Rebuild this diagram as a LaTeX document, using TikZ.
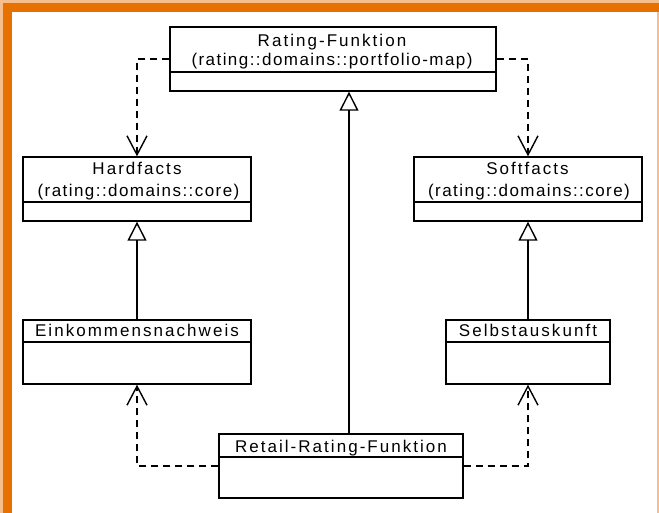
\documentclass[tikz,border=0pt]{standalone}
\usepackage{fontspec}
\setmainfont{Liberation Sans}
\newfontfamily\titlefont[LetterSpace=12]{Liberation Sans}
\newfontfamily\pkgfont[LetterSpace=8.5]{Liberation Sans}
\usetikzlibrary{arrows.meta}
\definecolor{frameorange}{RGB}{230,112,0}
\definecolor{framepeach}{RGB}{246,190,140}
\tikzset{
  classbox/.style={draw=black, line width=1.4pt, fill=white, inner sep=0pt},
  divider/.style={draw=black, line width=1.4pt},
  titletext/.style={anchor=base, inner sep=0pt, font=\titlefont\fontsize{17}{19}\selectfont},
  pkgtext/.style={anchor=base, inner sep=0pt, font=\pkgfont\fontsize{17}{19}\selectfont},
  depend/.style={draw=black, line width=1.4pt, dash pattern=on 7pt off 5pt, -{Straight Barb[length=19pt, width=20pt, line width=1.4pt]}},
  inherit/.style={draw=black, line width=1.4pt, -{Triangle[open, length=19pt, width=19pt, line width=1.4pt, fill=white]}},
}
\begin{document}
\begin{tikzpicture}[x=1pt, y=-1pt]
  % background and frame
  \fill[white] (0,0) rectangle (659,513);
  \useasboundingbox (0,0) rectangle (659,513);
  \fill[framepeach] (0,0) rectangle (659,3);
  \fill[framepeach] (0,0) rectangle (3,513);
  \fill[framepeach] (657,3) rectangle (659,513);
  \fill[frameorange] (3,3) rectangle (659,12);
  \fill[frameorange] (3,3) rectangle (11.5,513);

  % classes
  \node[classbox, minimum width=326pt, minimum height=64pt] (rf) at (333,59) {};
  \draw[divider] (rf.west |- 0,72) -- (rf.east |- 0,72);
  \node[titletext] (rft) at (332,47) {Rating-Funktion};
  \node[pkgtext] (rfp) at (332,66) {(rating::domains::portfolio-map)};

  \node[classbox, minimum width=228pt, minimum height=64pt] (hf) at (137,189) {};
  \draw[divider] (hf.west |- 0,202) -- (hf.east |- 0,202);
  \node[titletext] (hft) at (137,175) {Hardfacts};
  \node[pkgtext] (hfp) at (138.5,197) {(rating::domains::core)};

  \node[classbox, minimum width=228pt, minimum height=64pt] (sf) at (528,189) {};
  \draw[divider] (sf.west |- 0,202) -- (sf.east |- 0,202);
  \node[titletext] (sft) at (527.5,175) {Softfacts};
  \node[pkgtext] (sfp) at (529,197) {(rating::domains::core)};

  \node[classbox, minimum width=228pt, minimum height=64pt] (ek) at (137,352) {};
  \draw[divider] (ek.west |- 0,342) -- (ek.east |- 0,342);
  \node[titletext] (ekt) at (137,337) {Einkommensnachweis};

  \node[classbox, minimum width=164pt, minimum height=64pt] (sa) at (528,352) {};
  \draw[divider] (sa.west |- 0,342) -- (sa.east |- 0,342);
  \node[titletext] (sat) at (528,337) {Selbstauskunft};

  \node[classbox, minimum width=244pt, minimum height=64pt] (rt) at (341,466) {};
  \draw[divider] (rt.west |- 0,457) -- (rt.east |- 0,457);
  \node[titletext] (rtt) at (341,452) {Retail-Rating-Funktion};

  % connectors
  \draw[depend] (rf.west) -| (hf.north);
  \draw[depend] (rf.east) -| (sf.north);
  \draw[inherit] (ek.north) -- (hf.south);
  \draw[inherit] (sa.north) -- (sf.south);
  \draw[inherit] ([xshift=8pt]rt.north) -- ([xshift=16pt]rf.south);
  \draw[depend] (rt.west) -| (ek.south);
  \draw[depend] (rt.east) -| (sa.south);
\end{tikzpicture}
\end{document}
